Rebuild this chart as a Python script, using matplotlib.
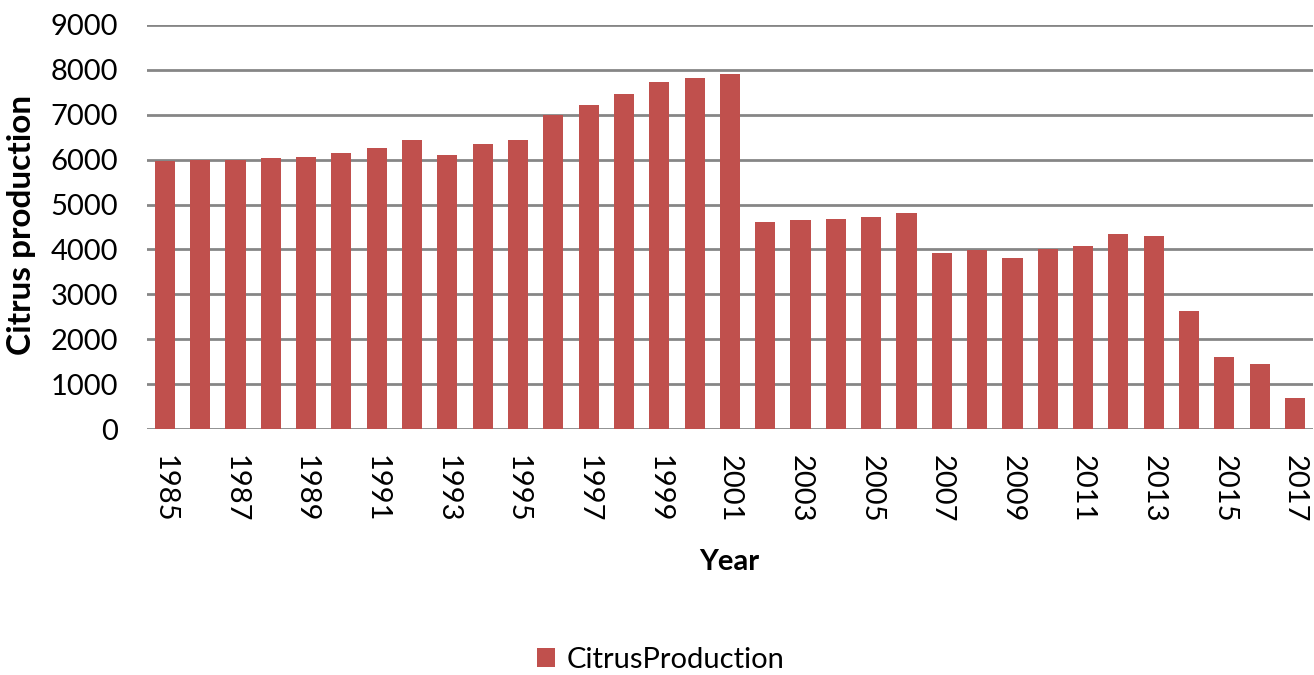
import matplotlib.pyplot as plt

plt.rcParams['font.family'] = ['Lato', 'DejaVu Sans']

# citrus production per year
years = list(range(1985, 2018))
production = [5960, 6000, 6000, 6030, 6070, 6145, 6265, 6430, 6110, 6340,
              6430, 6990, 7220, 7465, 7740, 7820, 7900, 4615, 4645, 4680,
              4725, 4805, 3920, 3995, 3800, 4000, 4080, 4350, 4310, 2640,
              1610, 1450, 700]
y_ticks = [0, 1000, 2000, 3000, 4000, 5000, 6000, 7000, 8000, 9000]

W, H = 1314, 675
fig = plt.figure(figsize=(W / 100, H / 100), dpi=100)
ax = fig.add_axes([0.112, 0.3644, 0.887, 0.5986])

x = list(range(len(years)))
ax.bar(x, production, width=0.57, color='#C0504D', label='CitrusProduction',
       zorder=3)

ax.set_xlim(-0.5, len(years) - 0.5)
ax.set_ylim(0, 9000)
ax.set_yticks(y_ticks)
ax.set_yticklabels([str(v) for v in y_ticks], fontsize=21)
ax.set_xticks(x[::2])
ax.set_xticklabels([str(y) for y in years[::2]], rotation=-90, fontsize=21,
                   va='top', ha='center')
ax.tick_params(axis='y', length=0, pad=21)
ax.tick_params(axis='x', length=0, pad=19)
ax.yaxis.grid(True, color='#868686', linewidth=2, zorder=0)
for s in ax.spines.values():
    s.set_visible(False)

# axis titles placed in figure pixels
fig.text(22 / W, 1 - 225 / H, 'Citrus production', rotation=90,
         fontsize=24, fontweight='bold', ha='center', va='center')
fig.text(729 / W, 1 - 562 / H, 'Year', fontsize=21, fontweight='bold',
         ha='center', va='center')

fig.legend(loc='center', bbox_to_anchor=(661 / W, 1 - 660 / H), frameon=False,
           fontsize=21, handlelength=0.6, handleheight=0.6, handletextpad=0.4,
           borderpad=0)

fig.savefig('out.png', dpi=100)
